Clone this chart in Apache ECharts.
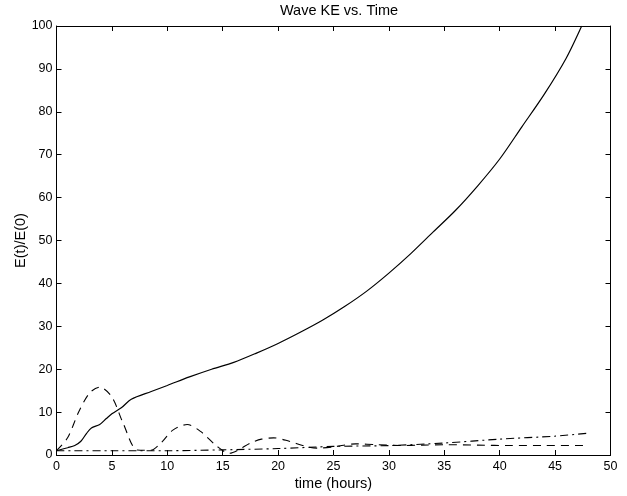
<!DOCTYPE html>
<html><head><meta charset="utf-8">
<script src="https://cdn.jsdelivr.net/npm/echarts@6/dist/echarts.min.js"></script>
<style>html,body{margin:0;padding:0;background:#fff}#c{width:627px;height:496px}</style>
</head><body><div id="c"></div>
<script>
var solidT = [0,1,1.65,2.2,2.7,3.15,3.9,4.5,5,5.85,6.75,8.55,10,12,14,16,18,20,22,24,26,28,30,32,34,36,38,40,42,44,46,47.4];
var solidV = [1,1.7,2.2,3.2,5,6.3,7.1,8.5,9.6,11,13,14.8,16.2,18.2,20,21.6,23.7,26,28.6,31.4,34.6,38.2,42.4,47,52,57,62.7,69,76.5,84,92.5,100];
var dashT = [0,1,2,3,3.9,5,6,7.3,8.5,9.5,10.5,11.8,13,14.5,15.6,16.5,17.5,18.5,19.6,21,22.5,23.5,25,27,29,31,33,35,38,41,44,48];
var dashV = [1,4,10,14.5,15.8,13.5,7.5,1.15,1.1,3,5.8,7.1,5.5,2,0.4,1.3,2.8,3.7,4,3.2,2,1.6,1.9,2.6,2.4,2.2,2.3,2.4,2.3,2.2,2.2,2.2];
var dotT = [0,5,10,15,20,25,30,35,40,45,48];
var dotV = [1,1,1,1.2,1.5,2,2.2,2.8,3.7,4.4,5.1];
var xTicks = [0,5,10,15,20,25,30,35,40,45,50];
var yTicks = [0,10,20,30,40,50,60,70,80,90,100];

function pairs(t,v){return t.map(function(x,i){return [x,v[i]];});}
var font = 'Liberation Sans, Arial, Helvetica, sans-serif';
var chart = echarts.init(document.getElementById('c'), null, {renderer:'canvas'});
var axisCommon = {
  axisLine:{show:true,onZero:false,lineStyle:{color:'#000',width:1}},
  axisTick:{show:true,inside:true,length:5,lineStyle:{color:'#000'}},
  splitLine:{show:false}
};
chart.setOption({
  animation:false,
  backgroundColor:'#fff',
  title:{text:'Wave KE vs. Time',left:334,textAlign:'center',top:-2,
    textStyle:{fontFamily:font,fontWeight:'normal',fontSize:14.5,color:'#000'}},
  grid:{left:56.5,right:16.5,top:26,bottom:37},
  xAxis:[
    Object.assign({type:'value',min:xTicks[0],max:xTicks[xTicks.length-1],interval:5,position:'bottom',
      name:'time (hours)',nameLocation:'middle',nameGap:21,nameMoveOverlap:false,
      nameTextStyle:{fontFamily:font,fontSize:14.5,color:'#000'},
      axisLabel:{fontFamily:font,fontSize:12.5,color:'#000',margin:5}},axisCommon),
    Object.assign({type:'value',min:xTicks[0],max:xTicks[xTicks.length-1],interval:5,position:'top',
      axisLabel:{show:false}},axisCommon)
  ],
  yAxis:[
    Object.assign({type:'value',min:yTicks[0],max:yTicks[yTicks.length-1],interval:10,position:'left',
      name:'E(t)/E(0)',nameLocation:'middle',nameGap:28,nameMoveOverlap:false,
      nameTextStyle:{fontFamily:font,fontSize:14.5,color:'#000'},
      axisLabel:{fontFamily:font,fontSize:12.5,color:'#000',margin:4}},axisCommon),
    Object.assign({type:'value',min:yTicks[0],max:yTicks[yTicks.length-1],interval:10,position:'right',
      axisLabel:{show:false}},axisCommon)
  ],
  series:[
    {type:'line',data:pairs(solidT,solidV),showSymbol:false,smooth:0.3,
      lineStyle:{color:'#000',width:1.2,type:'solid'}},
    {type:'line',data:pairs(dashT,dashV),showSymbol:false,smooth:0.3,
      lineStyle:{color:'#000',width:1.1,type:[8,6]}},
    {type:'line',data:pairs(dotT,dotV),showSymbol:false,smooth:0.3,
      lineStyle:{color:'#000',width:1.1,type:[8,4,2,4]}}
  ]
});
</script></body></html>
